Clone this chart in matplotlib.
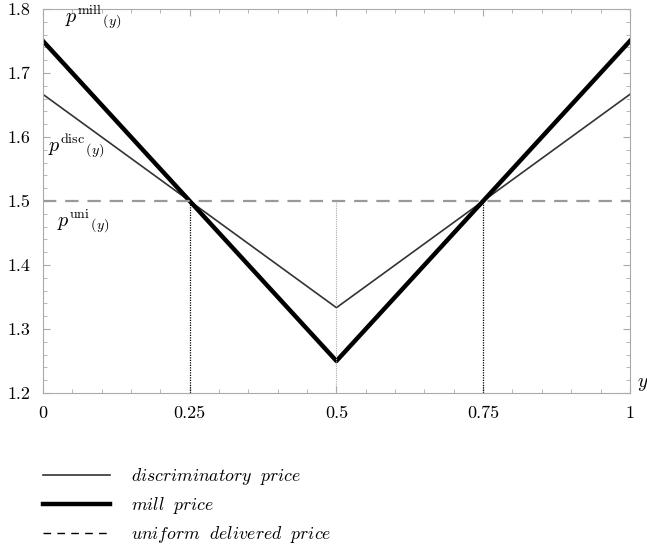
import numpy as np
import matplotlib
matplotlib.use("Agg")
import matplotlib.pyplot as plt
from matplotlib.ticker import MultipleLocator

plt.rcParams['font.family'] = 'serif'
plt.rcParams['font.serif'] = ['cmr10']
plt.rcParams['mathtext.fontset'] = 'cm'
plt.rcParams['axes.formatter.use_mathtext'] = True

# data
y_pts = [0, 0.5, 1]
p_disc = [5 / 3, 4 / 3, 5 / 3]
p_mill = [1.75, 1.25, 1.75]
p_uni = 1.5
cross_x = [0.25, 0.75]
mid_x = 0.5
xticks = [0, 0.25, 0.5, 0.75, 1]
xticklabels = ['0', '0.25', '0.5', '0.75', '1']
yticks = [1.2, 1.3, 1.4, 1.5, 1.6, 1.7, 1.8]

fig = plt.figure(figsize=(6.47, 5.5), dpi=100)
ax = fig.add_axes([0.0665, 0.2855, 0.907, 0.698])

ax.plot(y_pts, p_disc, color='#333333', lw=1.2, label=r'$discriminatory\ \ price$')
ax.plot(y_pts, p_mill, color='black', lw=3.2, label=r'$mill\ \ price$')
ax.axhline(p_uni, color='#999999', lw=1.6, dashes=(6, 4))
ax.plot([], [], color='black', lw=1.0, dashes=(5.5, 4.5), label=r'$uniform\ \ delivered\ \ price$')

for cx in cross_x:
    ax.plot([cx, cx], [1.2, p_uni], color='black', lw=0.9, ls=(0, (1, 1)))
ax.plot([mid_x, mid_x], [1.2, p_uni], color='#aaaaaa', lw=0.8, ls=(0, (1, 1)))

ax.text(0.037, 1.787, r'$p^{\rm mill}{}_{(y)}$', fontsize=14.5, va='center')
ax.text(0.008, 1.585, r'$p^{\rm disc}{}_{(y)}$', fontsize=14.5, va='center')
ax.text(0.023, 1.469, r'$p^{\rm uni}{}_{(y)}$', fontsize=14.5, va='center')
ax.text(1.022, 1.2, r'$y$', fontsize=14, va='bottom', ha='center')

ax.set_xlim(0, 1)
ax.set_ylim(1.2, 1.8)
ax.set_xticks(xticks)
ax.set_xticklabels(xticklabels)
ax.set_yticks(yticks)
ax.set_yticklabels([f'{v:.1f}' for v in yticks])
ax.xaxis.set_minor_locator(MultipleLocator(0.05))
ax.yaxis.set_minor_locator(MultipleLocator(0.02))
ax.tick_params(which='both', direction='in', top=True, right=True, color='#aaaaaa',
               labelsize=13)
ax.tick_params(which='major', length=5, width=0.8)
ax.tick_params(which='minor', length=3, width=0.6)
ax.tick_params(axis='x', pad=9)
ax.tick_params(axis='y', pad=9)
for s in ax.spines.values():
    s.set_color('#aaaaaa')
    s.set_linewidth(0.8)

fig.legend(loc='upper left', bbox_to_anchor=(0.055, 0.166), frameon=False,
           fontsize=12.8, handlelength=3.8, handletextpad=1.15, labelspacing=0.45,
           borderaxespad=0)

fig.savefig('out.png', dpi=100)
